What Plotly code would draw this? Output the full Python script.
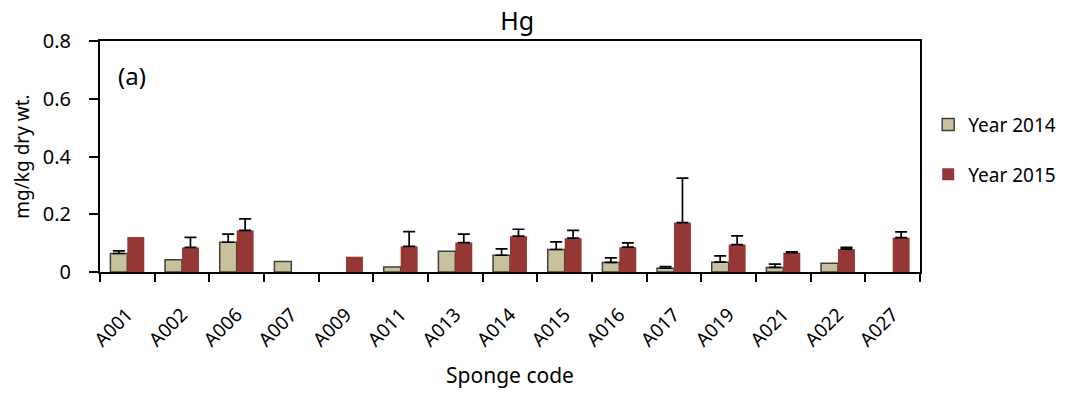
import plotly.graph_objects as go

codes = ["A001", "A002", "A006", "A007", "A009", "A011", "A013", "A014",
         "A015", "A016", "A017", "A019", "A021", "A022", "A027"]

hg_2014 = [0.064, 0.042, 0.103, 0.036, None, 0.017, 0.072, 0.058,
           0.078, 0.033, 0.013, 0.034, 0.016, 0.030, None]
sd_2014 = [0.009, None, 0.028, None, None, None, None, 0.022,
           0.026, 0.016, 0.006, 0.022, 0.011, None, None]

hg_2015 = [0.121, 0.085, 0.144, None, 0.053, 0.089, 0.102, 0.124,
           0.117, 0.086, 0.171, 0.095, 0.067, 0.079, 0.119]
sd_2015 = [None, 0.035, 0.040, None, None, 0.051, 0.029, 0.024,
           0.027, 0.015, 0.154, 0.030, 0.003, 0.006, 0.020]

FONT = "Noto Sans"


def upper_only(sd):
    # one-sided error bars; "NaN" strings are skipped by plotly.js, so no cap is drawn
    plus = [v if v is not None else "NaN" for v in sd]
    minus = [0 if v is not None else "NaN" for v in sd]
    return dict(type="data", array=plus, symmetric=False, arrayminus=minus,
                color="black", thickness=1.7, width=6)


fig = go.Figure()
fig.add_trace(go.Bar(
    x=codes, y=hg_2014, name="Year 2014", legendgroup="y2014",
    marker=dict(color="#C9C19B", line=dict(color="#404040", width=1.5)),
    error_y=upper_only(sd_2014),
))
fig.add_trace(go.Bar(
    x=codes, y=hg_2015, name="Year 2015", legendgroup="y2015",
    marker=dict(color="#953735", line=dict(color="#953735", width=0)),
    error_y=upper_only(sd_2015),
))

fig.add_annotation(text="(a)", x=0.02, y=0.85, xref="paper", yref="paper",
                   xanchor="left", yanchor="middle", showarrow=False,
                   font=dict(family=FONT, size=24, color="black"))

fig.update_layout(
    width=1073, height=394,
    margin=dict(l=100, r=140, t=41, b=122),
    paper_bgcolor="white", plot_bgcolor="white",
    barmode="group", bargap=0.38, bargroupgap=0,
    font=dict(family=FONT, size=18, color="black"),
    title=dict(text="Hg", x=0.482, xanchor="center", y=0.945, yanchor="middle",
               font=dict(family=FONT, size=25, color="black")),
    legend=dict(x=1.01, y=0.72, xanchor="left", yanchor="top",
                font=dict(family=FONT, size=19), tracegroupgap=22,
                traceorder="grouped", bgcolor="rgba(0,0,0,0)"),
    xaxis=dict(
        type="category", tickson="boundaries", ticks="outside", ticklen=8,
        tickwidth=2, tickcolor="black", tickangle=-45, ticklabelstandoff=22,
        showline=True, linecolor="black", linewidth=2, mirror=True,
        automargin=False,
        tickfont=dict(family=FONT, size=19),
        title=dict(text="Sponge code", font=dict(family=FONT, size=21), standoff=17),
    ),
    yaxis=dict(
        range=[0, 0.8], tickvals=[0, 0.2, 0.4, 0.6, 0.8],
        ticktext=["0", "0.2", "0.4", "0.6", "0.8"],
        ticks="outside", ticklen=9, tickwidth=2, tickcolor="black",
        ticklabelstandoff=14, automargin=False,
        showline=True, linecolor="black", linewidth=2, mirror=True,
        showgrid=False, zeroline=False,
        tickfont=dict(family=FONT, size=20),
        title=dict(text="mg/kg dry wt.", font=dict(family=FONT, size=19), standoff=8),
    ),
)

fig.write_html("out.html")
